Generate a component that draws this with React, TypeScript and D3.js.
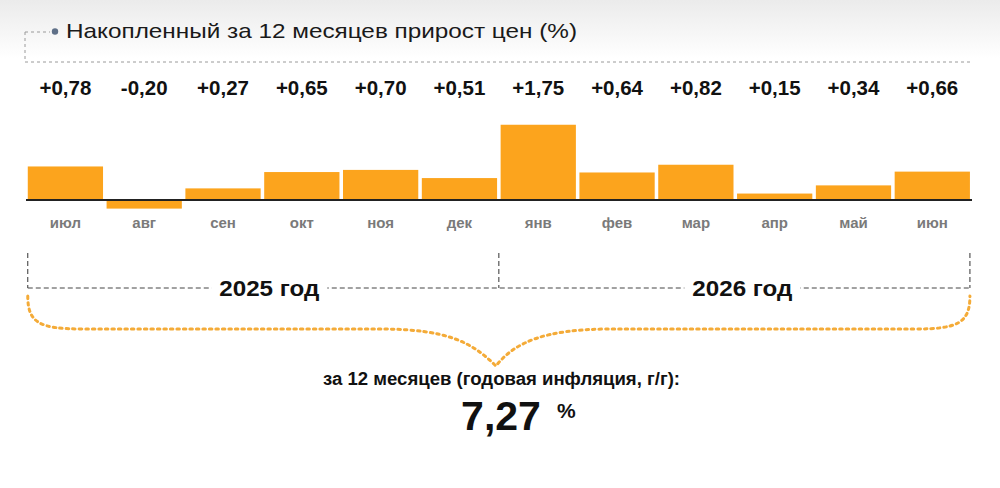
import React from "react";
import * as d3 from "d3";

const months = ["июл", "авг", "сен", "окт", "ноя", "дек", "янв", "фев", "мар", "апр", "май", "июн"];
const values = [0.78, -0.2, 0.27, 0.65, 0.7, 0.51, 1.75, 0.64, 0.82, 0.15, 0.34, 0.66];
const valueLabels = ["+0,78", "-0,20", "+0,27", "+0,65", "+0,70", "+0,51", "+1,75", "+0,64", "+0,82", "+0,15", "+0,34", "+0,66"];
const years = ["2025 год", "2026 год"];
const title = "Накопленный за 12 месяцев прирост цен (%)";
const totalLabel = "за 12 месяцев (годовая инфляция, г/г):";
const totalValue = "7,27";

const W = 1000;
const H = 488;
const FONT = "'Liberation Sans', Arial, sans-serif";
const ORANGE = "#FCA41D";

export default function App() {
  const x = d3.scaleBand<string>().domain(months).range([26, 971.7]).paddingInner(0.045).paddingOuter(0.0225);
  const y = d3.scaleLinear().domain([-0.5, 2]).range([221.5, 114]);
  const y0 = y(0);
  const left = x(months[0])!;
  const mid = (x(months[5])! + x.bandwidth() + x(months[6])!) / 2;
  const right = x(months[11])! + x.bandwidth();
  const yearY = 288;
  const braceTop = 296;
  const braceFlat = 329;
  const tipY = 366;
  const cx = mid - 3;
  const brace =
    `M${left},${braceTop} C${left},${braceFlat - 6} ${left + 12},${braceFlat} ${left + 55},${braceFlat} ` +
    `L${cx - 110},${braceFlat} C${cx - 50},${braceFlat + 1} ${cx - 25},${braceFlat + 12} ${cx},${tipY} ` +
    `C${cx + 20},${braceFlat + 12} ${cx + 50},${braceFlat + 1} ${cx + 110},${braceFlat} ` +
    `L${right - 55},${braceFlat} C${right - 12},${braceFlat} ${right},${braceFlat - 6} ${right},${braceTop}`;

  return (
    <svg width={W} height={H} style={{ position: "absolute", left: 0, top: 0 }} fontFamily={FONT}>
      <defs>
        <linearGradient id="bg" x1="0" y1="0" x2="0" y2="1">
          <stop offset="0" stopColor="#ebebeb" />
          <stop offset="0.12" stopColor="#ffffff" />
          <stop offset="1" stopColor="#ffffff" />
        </linearGradient>
      </defs>
      <rect x={0} y={0} width={W} height={H} fill="url(#bg)" />

      {/* title bracket */}
      <path d={`M25,32 L50,32 M25,32 L25,62 L973,62`} fill="none" stroke="#9a9a9a" strokeWidth={1} strokeDasharray="3,3" />
      <circle cx={55} cy={31.5} r={3.2} fill="#5f7088" />
      <text x={66} y={37.5} fontSize={21} fill="#1a1a1a" textLength={511} lengthAdjust="spacingAndGlyphs">{title}</text>

      {/* value labels */}
      {months.map((m, i) => (
        <text key={"v" + m} x={x(m)! + x.bandwidth() / 2} y={94.5} fontSize={20.5} fontWeight="bold" textAnchor="middle" fill="#111">
          {valueLabels[i]}
        </text>
      ))}

      {/* bars */}
      {months.map((m, i) => (
        <rect
          key={"b" + m}
          x={x(m)!}
          width={x.bandwidth()}
          y={Math.min(y(values[i]), y0)}
          height={Math.abs(y(values[i]) - y0)}
          fill={ORANGE}
        />
      ))}
      <line x1={26} x2={972} y1={y0} y2={y0} stroke="#222" strokeWidth={2} />

      {/* month labels */}
      {months.map((m) => (
        <text key={"m" + m} x={x(m)! + x.bandwidth() / 2} y={228} fontSize={15} fontWeight="bold" textAnchor="middle" fill="#7a7a7a">
          {m}
        </text>
      ))}

      {/* year separators */}
      {[left, mid, right].map((xx, i) => (
        <line key={"ys" + i} x1={xx} x2={xx} y1={253} y2={yearY} stroke="#333" strokeWidth={1} strokeDasharray="5,3" />
      ))}
      <line x1={left} x2={right} y1={yearY} y2={yearY} stroke="#444" strokeWidth={1} strokeDasharray="5,3" />
      {years.map((yr, i) => {
        const c = i === 0 ? (left + mid) / 2 + 6 : (mid + right) / 2 + 8;
        return (
          <g key={yr}>
            <rect x={c - 58} y={yearY - 14} width={116} height={26} fill="#fff" />
            <text x={c - 50} y={yearY + 8} fontSize={22.5} fontWeight="bold" fill="#111" textLength={100} lengthAdjust="spacingAndGlyphs">{yr}</text>
          </g>
        );
      })}

      {/* brace */}
      <path d={brace} fill="none" stroke="#F4AB38" strokeWidth={3} strokeDasharray="2.5,4" strokeLinecap="round" />

      {/* total */}
      <text x={323} y={384.5} fontSize={17.5} fontWeight="bold" fill="#111" textLength={357} lengthAdjust="spacingAndGlyphs">{totalLabel}</text>
      <text x={501} y={430} fontSize={41} fontWeight="bold" textAnchor="middle" fill="#111">{totalValue}</text>
      <text x={557} y={418} fontSize={21} fontWeight="bold" fill="#111">%</text>
    </svg>
  );
}
